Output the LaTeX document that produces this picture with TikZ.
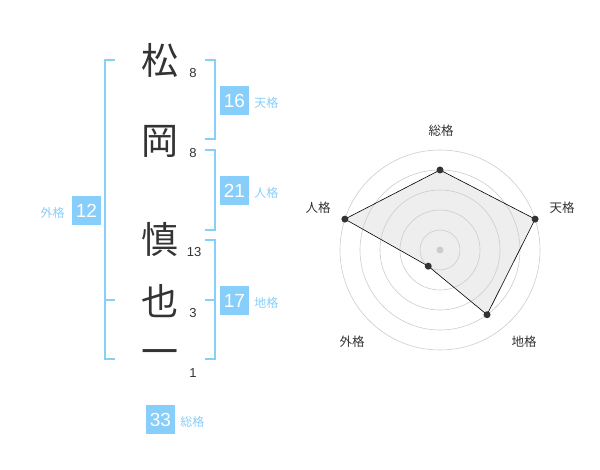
\documentclass[tikz,border=0pt]{standalone}
\usepackage{fontspec}
\setmainfont{Liberation Sans}
\newfontfamily\cjk{Noto Sans CJK JP}
\usepackage{xcolor}
\usetikzlibrary{positioning, calc}
\definecolor{skyline}{HTML}{87CEFA}
\definecolor{inkgray}{HTML}{333333}

\begin{document}
\begin{tikzpicture}[x=1pt, y=-1pt,
    kanji/.style={font=\cjk\fontsize{37}{37}\selectfont, text=inkgray, inner sep=0pt},
    strokes/.style={font=\fontsize{13}{13}\selectfont, text=inkgray, inner sep=0pt},
    score/.style={fill=skyline, text=white, minimum size=29pt, inner sep=0pt,
        font=\fontsize{19}{19}\selectfont},
    kaku/.style={text=skyline, font=\cjk\fontsize{12}{12}\selectfont, inner sep=0pt},
    brace/.style={skyline, line width=1.6pt},
    ring/.style={gray!40, line width=0.6pt},
    axislabel/.style={font=\cjk\fontsize{12.5}{12.5}\selectfont, text=inkgray, inner sep=0pt},
    dot/.style={circle, fill=inkgray, inner sep=0pt, minimum size=7pt}
]
    \useasboundingbox (0,0) rectangle (600,470);

    % Name characters
    \node[kanji] (c1) at (160,60) {松};
    \node[kanji] (c2) at (160,141) {岡};
    \node[kanji] (c3) at (160,239) {慎};
    \node[kanji] (c4) at (160,301) {也};
    \node[kanji] (c5) at (160,358) {一};

    % Stroke counts
    \node[strokes] (n1) at (193,73) {8};
    \node[strokes] (n2) at (193,153) {8};
    \node[strokes] (n3) at (194,252) {13};
    \node[strokes] (n4) at (193,313) {3};
    \node[strokes] (n5) at (193,373) {1};

    % Brackets
    \coordinate (outtop) at (105,60);
    \coordinate (outbot) at (105,359);
    \draw[brace] (outtop) ++(10,0) -- (outtop) -- (outbot) -- ++(10,0);
    \draw[brace] (105,300) -- ++(10,0);

    \coordinate (tentop) at (215,60);
    \coordinate (tenbot) at (215,139);
    \draw[brace] (tentop) ++(-10,0) -- (tentop) -- (tenbot) -- ++(-10,0);

    \coordinate (jintop) at (215,150);
    \coordinate (jinbot) at (215,230);
    \draw[brace] (jintop) ++(-10,0) -- (jintop) -- (jinbot) -- ++(-10,0);

    \coordinate (chitop) at (215,240);
    \coordinate (chibot) at (215,359);
    \draw[brace] (chitop) ++(-10,0) -- (chitop) -- (chibot) -- ++(-10,0);
    \draw[brace] (215,300) -- ++(-10,0);

    % Scores with labels
    \node[score] (ten) at (234.5,100.5) {16};
    \node[kaku, right=5pt of ten, yshift=-2pt] (tenlbl) {天格};
    \node[score] (jin) at (234.5,190.5) {21};
    \node[kaku, right=5pt of jin, yshift=-2pt] (jinlbl) {人格};
    \node[score] (chi) at (234.5,300.5) {17};
    \node[kaku, right=5pt of chi, yshift=-2pt] (chilbl) {地格};
    \node[score] (gai) at (86.5,210.5) {12};
    \node[kaku, left=7pt of gai, yshift=-2pt] (gailbl) {外格};
    \node[score] (sou) at (160.5,419.5) {33};
    \node[kaku, right=5pt of sou, yshift=-2pt] (soulbl) {総格};

    % Radar chart
    \coordinate (hub) at (440,250);
    \path (hub) ++(90:80pt) coordinate (psou);
    \path (hub) ++(18:100pt) coordinate (pten);
    \path (hub) ++(-54:80pt) coordinate (pchi);
    \path (hub) ++(234:20pt) coordinate (pgai);
    \path (hub) ++(162:100pt) coordinate (pjin);

    \fill[gray!13] (psou) -- (pten) -- (pchi) -- (pgai) -- (pjin) -- cycle;
    \foreach \r in {20,40,...,100}
        \draw[ring] (hub) circle[radius=\r pt];
    \draw[black, line width=0.6pt] (psou) -- (pten) -- (pchi) -- (pgai) -- (pjin) -- cycle;
    \node[circle, fill=gray!40, inner sep=0pt, minimum size=7pt] (hubdot) at (hub) {};
    \foreach \p in {psou,pten,pchi,pgai,pjin}
        \node[dot] at (\p) {};

    \node[axislabel] (lsou) at (441,131) {総格};
    \node[axislabel] (lten) at (562,208) {天格};
    \node[axislabel] (lchi) at (524,342) {地格};
    \node[axislabel] (lgai) at (352,342) {外格};
    \node[axislabel] (ljin) at (318,208) {人格};
\end{tikzpicture}
\end{document}
